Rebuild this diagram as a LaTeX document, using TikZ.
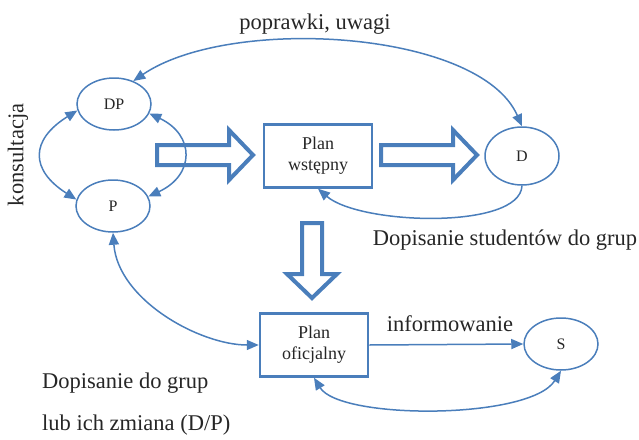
\documentclass[tikz,border=0pt]{standalone}
\usepackage{fontspec}
\setmainfont{Liberation Serif}
\usetikzlibrary{arrows.meta,shapes.geometric}
\definecolor{lineblue}{RGB}{74,126,187}

\begin{document}
\begin{tikzpicture}[x=1pt, y=-1pt,
  role/.style={draw=lineblue, line width=1.5pt, ellipse, minimum width=74pt,
    minimum height=52pt, inner sep=0pt, text=black!85, font=\fontsize{16}{19}\selectfont},
  plan/.style={draw=lineblue, line width=2.5pt, rectangle, minimum width=108pt,
    minimum height=63pt, align=center, text=black!85, font=\fontsize{18}{21}\selectfont},
  tip/.tip={Triangle[length=12pt, width=10pt]},
  conn/.style={draw=lineblue, line width=1.5pt, -tip},
  both/.style={conn, tip-tip},
  bigarrow/.style={draw=lineblue, line width=4pt, line join=miter},
  txt/.style={text=black!85, inner sep=0pt, font=\fontsize{22.5}{27}\selectfont}]

\useasboundingbox (0,0) rectangle (639,439);

% roles and plans
\node[role] (DP) at (114,104) {DP};
\node[role] (P) at (113,206) {P};
\node[plan] (wst) at (318,156) {Plan\\wstępny};
\node[role, minimum height=58pt] (D) at (522,156) {D};
\node[plan] (ofic) at (314,345) {Plan\\oficjalny};
\node[role] (S) at (561,344) {S};

% hollow block arrows: x/y of tail, rotation, length
\foreach \x/\y/\r/\l in {157/155/0/96, 381/155/0/96, 312/223/-90/75}
{
  \draw[bigarrow, shift={(\x,\y)}, rotate=\r] (0,-10) -- (\l-24,-10) -- (\l-24,-25)
    -- (\l,0) -- (\l-24,25) -- (\l-24,10) -- (0,10) -- cycle;
}

% labels
\node[txt] (popr) at (315,24) {poprawki, uwagi};
\node[txt, rotate=90] (kons) at (18,155) {konsultacja};
\node[txt] (dopS) at (505,240) {Dopisanie studentów do grup};
\node[txt] (inf) at (450,324) {informowanie};
\node[txt, anchor=west] (dopG) at (42,383) {Dopisanie do grup};
\node[txt, anchor=west] (zm) at (42,425) {lub ich zmiana (D/P)};

% connectors
\draw[both] (DP.50) .. controls (230,15) and (480,30) .. (D.north);
\draw[both] (DP.190) .. controls (30,140) and (30,170) .. (P.170);
\draw[both] (DP.-15) .. controls (195,135) and (195,175) .. (P.15);
\draw[conn] (D.south) .. controls (520,230) and (360,225) .. (wst.south);
\draw[both] (P.south) .. controls (118,300) and (200,345) .. (ofic.west);
\draw[conn] (ofic.east) -- (S.west);
\draw[both] (ofic.south) .. controls (340,420) and (530,420) .. (S.south);
\end{tikzpicture}
\end{document}
